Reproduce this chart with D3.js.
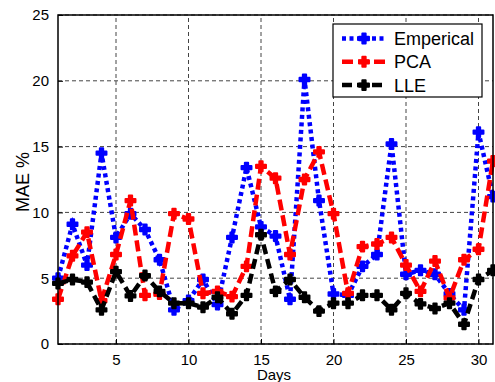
<!DOCTYPE html>
<html>
<head>
<meta charset="utf-8">
<script src="https://cdn.jsdelivr.net/npm/d3@7"></script>
<style>
  body { margin: 0; background: #fff; }
  svg { display: block; font-family: "Liberation Sans", Arial, sans-serif; }
</style>
</head>
<body>
<div id="chart"></div>
<script>
const days = d3.range(1, 32);
const empirical = [5.0, 9.1, 6.0, 14.5, 8.1, 9.9, 8.7, 6.4, 2.6, 3.3, 4.9, 3.0, 8.1, 13.4, 8.9, 8.2, 3.4, 20.1, 10.9, 3.8, 3.7, 5.9, 6.8, 15.2, 5.3, 5.6, 5.3, 3.8, 2.6, 16.1, 11.2];
const pca = [3.4, 6.7, 8.5, 3.3, 6.8, 10.9, 3.7, 3.8, 9.9, 9.5, 3.85, 4.0, 3.6, 5.9, 13.5, 12.6, 6.8, 12.5, 14.6, 9.9, 3.85, 7.4, 7.6, 8.1, 6.0, 4.0, 6.3, 3.5, 6.4, 7.2, 13.9];
const lle = [4.6, 4.9, 4.7, 2.6, 5.5, 3.65, 5.2, 4.0, 3.1, 3.1, 2.8, 3.55, 2.3, 3.7, 8.3, 4.0, 4.9, 3.55, 2.5, 3.1, 3.1, 3.7, 3.7, 2.6, 3.85, 3.05, 2.7, 3.1, 1.5, 4.9, 5.6];
const xTicks = [5, 10, 15, 20, 25, 30];
const yTicks = [0, 5, 10, 15, 20, 25];

const series = [
  {name: 'Emperical', values: empirical, color: '#0000ff', dash: '4,3.5'},
  {name: 'PCA', values: pca, color: '#ff0000', dash: '11,5'},
  {name: 'LLE', values: lle, color: '#000000', dash: '10,5'}
];

const width = 495, height = 382;
const svg = d3.select('#chart').append('svg')
  .attr('width', width)
  .attr('height', height);

const x = d3.scaleLinear().domain([1, 31]).range([58, 493]);
const y = d3.scaleLinear().domain([0, 25]).range([344, 15]);

// grid
const grid = svg.append('g').attr('stroke', '#444').attr('stroke-width', 1).attr('stroke-dasharray', '4,3');
grid.selectAll('.gx').data(xTicks).enter().append('line')
  .attr('x1', d => x(d)).attr('x2', d => x(d))
  .attr('y1', y(0)).attr('y2', y(25));
grid.selectAll('.gy').data(yTicks).enter().append('line')
  .attr('x1', x(1)).attr('x2', x(31))
  .attr('y1', d => y(d)).attr('y2', d => y(d));

// axes
const xAxis = svg.append('g')
  .attr('transform', `translate(0,${y(0)})`)
  .call(d3.axisBottom(x).tickValues(xTicks).tickSizeInner(-5).tickSizeOuter(0).tickPadding(10));
const yAxis = svg.append('g')
  .attr('transform', `translate(${x(1)},0)`)
  .call(d3.axisLeft(y).tickValues(yTicks).tickSizeInner(-5).tickSizeOuter(0).tickPadding(9));
[xAxis, yAxis].forEach(a => {
  a.selectAll('text').attr('font-size', 15).attr('fill', '#000').attr('font-family', '"Liberation Sans", Arial, sans-serif');
  a.selectAll('.domain').remove();
  a.selectAll('line').attr('stroke', '#000');
});

// series
const line = d3.line().x((d, i) => x(days[i])).y(d => y(d));
const marker = d3.symbol(d3.symbolCross, 55);
const plot = svg.append('g');
series.forEach(s => {
  plot.append('path')
    .datum(s.values)
    .attr('fill', 'none')
    .attr('stroke', s.color)
    .attr('stroke-width', 4.5)
    .attr('stroke-dasharray', s.dash)
    .attr('d', line);
  plot.selectAll(null).data(s.values).enter().append('path')
    .attr('d', marker)
    .attr('transform', (d, i) => `translate(${x(days[i])},${y(d)})`)
    .attr('fill', s.color)
    .attr('stroke', s.color)
    .attr('stroke-width', 2)
    .attr('stroke-linejoin', 'round');
});

// frame
svg.append('rect')
  .attr('x', x(1)).attr('y', y(25))
  .attr('width', x(31) - x(1)).attr('height', y(0) - y(25))
  .attr('fill', 'none').attr('stroke', '#000').attr('stroke-width', 1.5);

// labels
svg.append('text')
  .attr('x', 274).attr('y', 380)
  .attr('text-anchor', 'middle')
  .attr('font-size', 15)
  .text('Days');
svg.append('text')
  .attr('transform', 'translate(29,182) rotate(-90)')
  .attr('text-anchor', 'middle')
  .attr('font-size', 18)
  .text('MAE %');

// legend
const legend = svg.append('g');
legend.append('rect')
  .attr('x', 333).attr('y', 24).attr('width', 149).attr('height', 73)
  .attr('fill', '#fff').attr('stroke', '#000').attr('stroke-width', 1.2);
series.forEach((s, i) => {
  const ly = 38.5 + i * 23.3;
  legend.append('line')
    .attr('x1', 342).attr('x2', 387).attr('y1', ly).attr('y2', ly)
    .attr('stroke', s.color).attr('stroke-width', 4.5).attr('stroke-dasharray', s.dash);
  legend.append('path')
    .attr('d', marker)
    .attr('transform', `translate(364,${ly})`)
    .attr('fill', s.color)
    .attr('stroke', s.color)
    .attr('stroke-width', 2)
    .attr('stroke-linejoin', 'round');
  legend.append('text')
    .attr('x', 394).attr('y', ly + 6.5)
    .attr('font-size', 18)
    .text(s.name);
});
</script>
</body>
</html>
